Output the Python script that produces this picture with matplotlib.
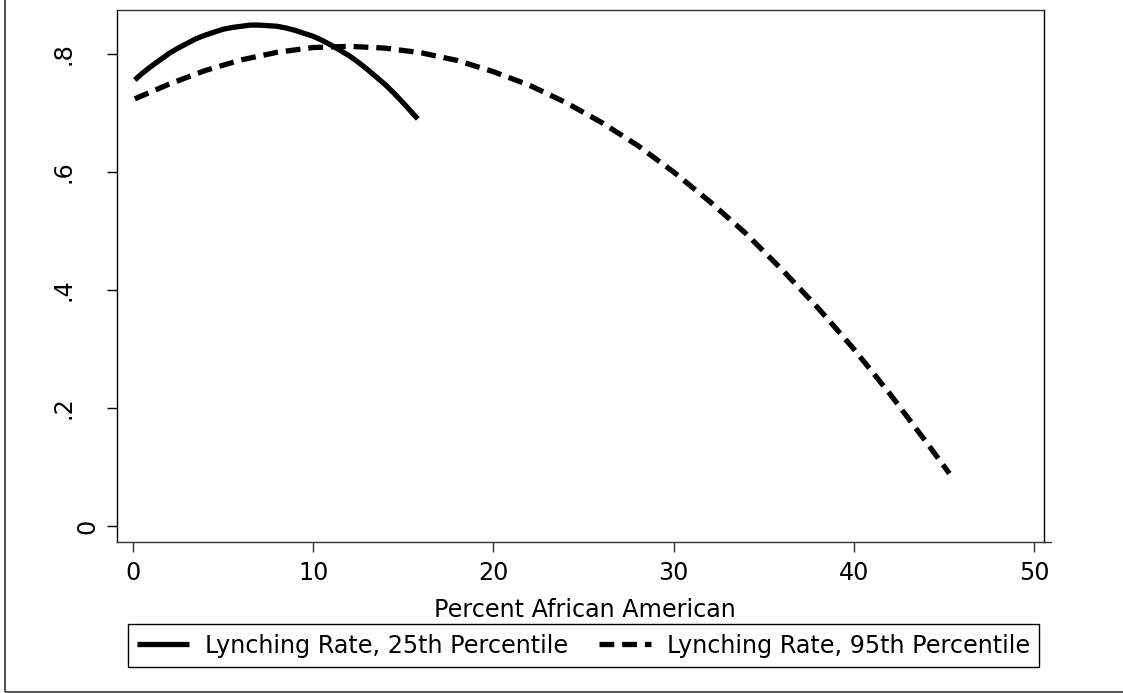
import matplotlib
matplotlib.use("Agg")
import matplotlib.pyplot as plt
from matplotlib.patches import Rectangle
from matplotlib.lines import Line2D
import matplotlib.transforms as mtrans

plt.rcParams['font.family'] = ['DejaVu Sans']

# values
pct25_x = [0.1, 0.5, 1, 1.5, 2, 2.5, 3, 3.5, 4, 4.5, 5, 5.5, 6, 6.5, 7, 7.5, 8,
           8.5, 9, 9.5, 10, 10.5, 11, 11.5, 12, 12.5, 13, 13.5, 14, 14.5, 15,
           15.5, 15.8]
pct25_y = [0.756, 0.767, 0.779, 0.790, 0.801, 0.810, 0.818, 0.826, 0.832,
           0.837, 0.842, 0.845, 0.847, 0.849, 0.849, 0.848, 0.847, 0.844,
           0.840, 0.835, 0.830, 0.823, 0.815, 0.806, 0.797, 0.786, 0.774,
           0.761, 0.748, 0.733, 0.717, 0.700, 0.690]

pct95_x = [0.1, 2, 4, 6, 8, 10, 12, 14, 16, 18, 20, 22, 24, 26, 28, 30,
           32, 34, 36, 38, 40, 42, 44, 45.3]
pct95_y = [0.724, 0.749, 0.772, 0.790, 0.803, 0.811, 0.813, 0.810, 0.802,
           0.789, 0.770, 0.747, 0.718, 0.684, 0.645, 0.600, 0.550, 0.496,
           0.435, 0.370, 0.300, 0.224, 0.143, 0.089]

xticks = [0, 10, 20, 30, 40, 50]
yticks = [0, 0.2, 0.4, 0.6, 0.8]
ytick_labels = ["0", ".2", ".4", ".6", ".8"]
legend_labels = ["Lynching Rate, 25th Percentile", "Lynching Rate, 95th Percentile"]
xlabel = "Percent African American"

W, H = 1123, 693
FS = 17.2
fig = plt.figure(figsize=(W / 100, H / 100), dpi=100)

# outer frame (left + bottom visible)
fig.patches.append(Rectangle((5 / W, 1.5 / H), 2, 2, transform=fig.transFigure,
                             fill=False, edgecolor='#444444', lw=1.3))

ax = fig.add_axes([117 / W, 1 - 542 / H, 927 / W, 532 / H])
ax.set_xlim(-0.89, 50.55)
ax.set_ylim(-0.027, 0.8746)

l1, = ax.plot(pct25_x, pct25_y, color='black', lw=3.8, solid_capstyle='butt',
              solid_joinstyle='round')
l2, = ax.plot(pct95_x, pct95_y, color='black', lw=3.8,
              linestyle=(0, (2.8, 1.5)), dash_capstyle='butt')

for s in ax.spines.values():
    s.set_linewidth(1.0)
    s.set_color('black')
ax.spines['bottom'].set_color('#333333')
ax.spines['top'].set_color('#333333')
# x axis line runs a little past the plot region
ax.add_line(Line2D([1.0, 1.0076], [0, 0], transform=ax.transAxes, color='#333333',
                   lw=1.0, clip_on=False))

ax.set_xticks(xticks)
ax.set_xticklabels([str(v) for v in xticks])
ax.tick_params(axis='x', length=7.2, width=1.0, color='#333333', labelsize=FS, pad=6.7)
ax.set_yticks(yticks)
ax.set_yticklabels([])
ax.tick_params(axis='y', length=7.2, width=1.0, color='black')

for v, lab in zip(yticks, ytick_labels):
    dx = -21.1 if lab == "0" else -38.3
    tr = ax.get_yaxis_transform() + mtrans.ScaledTranslation(dx / 72, 0, fig.dpi_scale_trans)
    ax.text(0, v, lab, transform=tr, rotation=90, ha='center', va='center', fontsize=FS)

ax.set_xlabel(xlabel, fontsize=FS)
ax.xaxis.set_label_coords(0.505, -0.106)

leg = fig.legend([l1, l2], legend_labels, loc='center',
                 bbox_to_anchor=(583.5 / W, 1 - 645.5 / H), ncol=2, fontsize=FS,
                 handlelength=2.18, handletextpad=0.67, columnspacing=1.26,
                 borderpad=0.4, fancybox=False, framealpha=1, edgecolor='black')
leg.get_frame().set_linewidth(1.0)

fig.savefig("out.png", dpi=100)
